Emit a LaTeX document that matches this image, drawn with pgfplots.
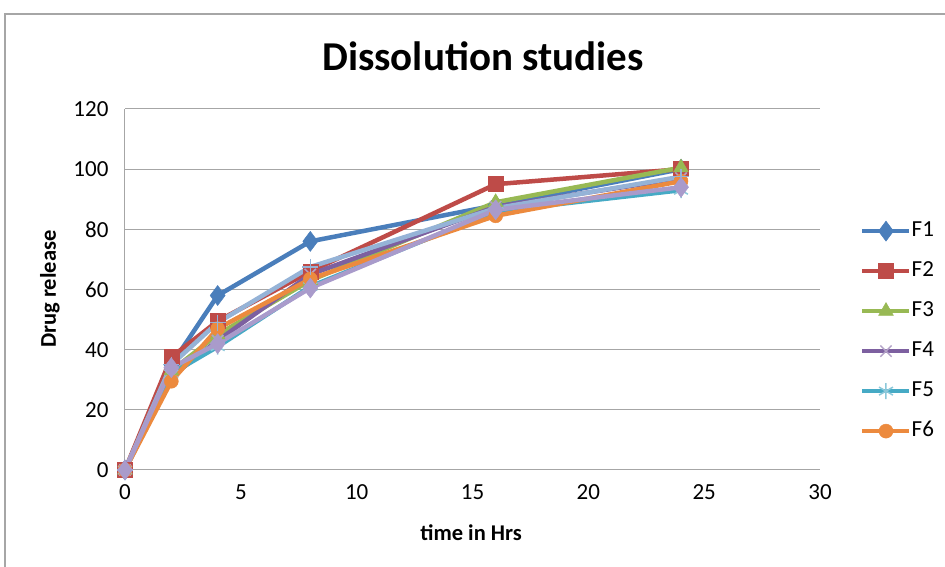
\documentclass[border=0pt]{standalone}
\usepackage{pgfplots}
\pgfplotsset{compat=1.18}
\usepackage{fontspec}
\setmainfont{Carlito}
\definecolor{cF1}{HTML}{4A7EBB}
\definecolor{cF2}{HTML}{BE4B48}
\definecolor{cF3}{HTML}{98B954}
\definecolor{cF4}{HTML}{7D60A0}
\definecolor{cF4m}{HTML}{B3A2C7}
\definecolor{cF5}{HTML}{46AAC5}
\definecolor{cF5m}{HTML}{8CC8DA}
\definecolor{cF6}{HTML}{EC8A3E}
\definecolor{cF7}{HTML}{95B3D7}
\definecolor{cF8}{HTML}{A99BCB}
\definecolor{gridc}{HTML}{A6A6A6}
\begin{document}
\begin{tikzpicture}
\useasboundingbox (-125pt,-97pt) rectangle (820pt,470pt);
\begin{axis}[
  scale only axis,
  width=695pt, height=361pt,
  xmin=0, xmax=30, ymin=0, ymax=120,
  xtick={0,5,...,30}, ytick={0,20,...,120},
  axis x line*=bottom, axis y line*=left,
  axis line style={gridc, line width=1pt},
  ymajorgrids, major grid style={gridc, line width=1pt},
  major tick length=0pt,
  /pgf/number format/assume math mode=true,
  tick label style={font=\fontsize{23}{23}\selectfont},
  xticklabel style={yshift=-11pt},
  yticklabel style={xshift=-13pt},
  xlabel={\bfseries time in Hrs},
  ylabel={\bfseries Drug release},
  xlabel style={font=\fontsize{22.5}{22.5}\selectfont, at={(axis description cs:0.498,-0.1745)}, anchor=center},
  ylabel style={font=\fontsize{22.5}{22.5}\selectfont, at={(axis description cs:-0.108,0.501)}, anchor=center},
  title={\bfseries Dissolution studies},
  title style={font=\fontsize{41}{41}\selectfont, at={(axis description cs:0.515,1.13)}, anchor=center},
  clip=false,
  legend cell align=left,
  legend style={draw=none, fill=none, at={(1.0576,0.69)}, anchor=north west,
    font=\fontsize{23}{23}\selectfont, inner sep=0pt, row sep=20pt,
    nodes={inner sep=0pt, text height=15pt, text depth=5pt, xshift=1pt}},
  legend image code/.code={%
    \draw[#1, mark repeat=2, mark phase=2] plot coordinates {(0pt,0pt) (23.5pt,0pt) (47pt,0pt)};},
]
\addplot[cF1, line width=4.5pt, mark=diamond*, mark size=10pt, mark options={solid, line width=0.5pt}] coordinates {(0,0)(2,35)(4,58)(8,76)(16,88)(24,100)};
\addlegendentry{F1}
\addplot[cF2, line width=4.5pt, mark=square*, mark size=7.5pt, mark options={solid, line width=0.5pt}] coordinates {(0,0)(2,37.5)(4,49.5)(8,66)(16,95)(24,100)};
\addlegendentry{F2}
\addplot[cF3, line width=4.5pt, mark=triangle*, mark size=8.5pt, mark options={solid, line width=0.5pt}] coordinates {(0,0)(2,33)(4,45)(8,63)(16,89)(24,100.5)};
\addlegendentry{F3}
\addplot[cF4, line width=4.5pt, mark=x, mark size=8pt, mark options={solid, cF4m, line width=1.5pt}] coordinates {(0,0)(2,31)(4,43)(8,65)(16,87.5)(24,97)};
\addlegendentry{F4}
\addplot[cF5, line width=4.5pt, mark=asterisk, mark size=8pt, mark options={solid, cF5m, line width=1.5pt}] coordinates {(0,0)(2,32)(4,41)(8,61)(16,86)(24,93)};
\addlegendentry{F5}
\addplot[cF6, line width=4.5pt, mark=*, mark size=7pt, mark options={solid, line width=0.5pt}] coordinates {(0,0)(2,29.5)(4,47)(8,63.5)(16,84.5)(24,96)};
\addlegendentry{F6}
\addplot[cF7, line width=4.5pt, mark=+, mark size=8pt, mark options={solid, line width=1.5pt}, forget plot] coordinates {(0,0)(2,35)(4,49)(8,67.5)(16,87)(24,97.5)};
\addplot[cF8, line width=4.5pt, mark=diamond*, mark size=10pt, mark options={solid, line width=0.5pt}, forget plot] coordinates {(0,0)(2,34)(4,42)(8,60.5)(16,86.5)(24,94)};
\end{axis}
\draw[gridc, line width=1.2pt] (-120pt,-97pt) -- (-120pt,456pt) -- (820pt,456pt);
\end{tikzpicture}
\end{document}
